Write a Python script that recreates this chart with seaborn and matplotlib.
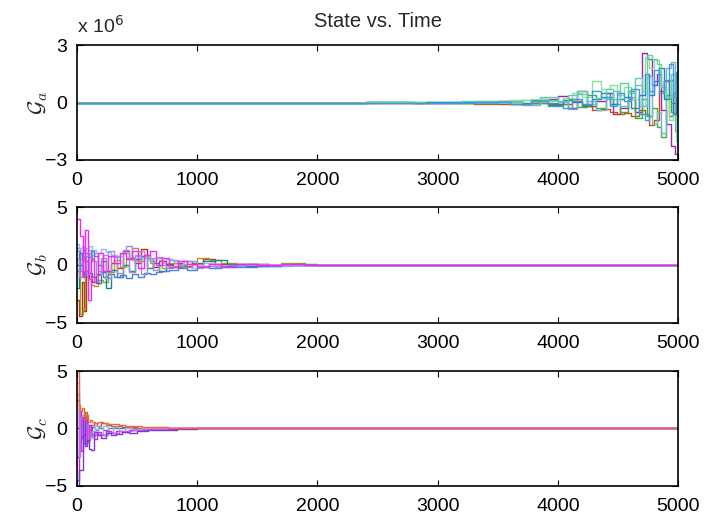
import pandas as pd
import seaborn as sns
import matplotlib
matplotlib.use('Agg')
import matplotlib.pyplot as plt

#///// Data: step traces
# Panel a (values in units of 1e6)
A_T1 = [0, 2400, 2800, 3200, 3500, 3700, 3850, 4000, 4080, 4160, 4240, 4320, 4400,
        4460, 4520, 4580, 4640, 4700, 4740, 4780, 4820, 4860, 4900, 4940, 4970, 5000]
A_T2 = [0, 2500, 2900, 3300, 3600, 3780, 3920, 4040, 4120, 4200, 4280, 4360, 4430,
        4490, 4550, 4610, 4670, 4720, 4760, 4800, 4840, 4880, 4920, 4955, 4985, 5000]
A_PURPLE = [0, 0.02, -0.03, 0.05, 0.1, -0.05, 0.2, 0.35, -0.3, 0.6, -0.2, 0.1, 0.5,
            -0.6, -0.3, 0.2, -0.5, 2.6, 2.3, 0.9, 1.5, -0.4, -1.1, -2.3, -2.7, -2.7]
A_BROWN = [0, -0.02, -0.05, -0.08, -0.1, -0.05, -0.15, -0.1, 0.1, -0.2, -0.4, -0.35, -0.5,
           -0.6, -0.55, -0.7, -0.4, -0.6, -1.2, -0.9, 0.6, 1.1, -0.7, 0.5, 1.4, 3.0]
A_GREEN = [0, 0.01, 0.02, -0.02, 0.05, 0.15, 0.0, -0.1, 0.2, -0.25, 0.4, -0.3, 0.3,
           -0.1, -0.5, 0.6, -0.8, 0.2, -0.7, -0.3, -1.3, -1.8, 0.4, -0.5, 1.5, -1.0]
A_LGREEN = [0, 0.03, 0.05, 0.08, 0.12, 0.2, 0.1, 0.25, 0.5, 0.3, 1.1, 0.7, 0.9,
            0.4, 0.8, 0.2, -0.2, 2.4, 1.8, 2.2, 0.9, 0.3, -0.9, -0.4, -2.0, -2.9]
A_LBLUE = [0, 0.02, 0.0, -0.05, 0.08, -0.12, 0.15, 0.05, -0.35, 0.45, 0.1, -0.4, 0.2,
           0.6, -0.2, 0.3, 0.9, -0.2, 1.4, -1.1, -0.5, -1.6, 1.8, 2.1, -1.5, 0.5]
A_TEAL = [0, -0.01, 0.03, 0.02, -0.06, 0.1, -0.08, 0.15, 0.05, -0.15, 0.2, 0.5, -0.1,
          0.2, 0.3, -0.3, 0.4, 1.5, 0.4, 1.1, 1.8, 0.2, 1.2, -0.6, 0.9, 1.2]
A_MINT = [0, 0.01, -0.04, 0.06, 0.03, -0.08, 0.3, 0.1, 0.4, 0.6, -0.1, 0.25, 0.7,
          0.2, 1.0, 0.5, 1.3, 0.6, 2.5, 2.3, 2.0, 0.8, 0.3, 1.5, 0.7, -2.2]
A_BLUE = [0, 0.0, -0.02, 0.04, -0.1, 0.08, -0.2, -0.3, 0.2, -0.1, 0.6, 0.3, -0.2,
          0.5, 0.1, 0.7, -0.6, -0.9, 0.6, 1.7, 0.5, 1.2, 2.0, 0.3, 1.6, 1.0]

# Panel b
B_T1 = [0, 20, 40, 60, 80, 100, 130, 160, 200, 240, 280, 330, 380, 430, 480, 530, 580,
        630, 680, 740, 800, 880, 960, 1050, 1150, 1250, 1400, 1600, 1800, 2000, 5000]
B_T2 = [0, 30, 50, 70, 90, 115, 145, 180, 220, 260, 305, 355, 405, 455, 505, 555, 605,
        655, 710, 770, 840, 920, 1000, 1100, 1200, 1320, 1500, 1700, 1900, 2100, 5000]
B_BROWN = [-3.0, -4.4, -1.5, -4.0, -0.5, -1.2, -1.5, -0.8, 0.3, -0.5, 0.2, -0.3, 1.2, 0.6,
           0.2, 1.4, 0.5, -0.2, 0.3, 0.1, 0.2, -0.1, 0.2, 0.5, 0.1, -0.1, 0.1, 0.0, 0.0, 0.0, 0.0]
B_OLIVE = [-0.5, -4.2, -3.8, -1.0, -1.2, -1.7, -1.8, -1.3, -1.5, -0.6, 0.4, -0.2, 0.6, 1.5,
           0.3, 0.9, 0.2, 0.6, -0.3, 0.2, 0.0, 0.1, 0.6, 0.4, 0.2, 0.1, -0.05, 0.2, 0.0, 0.0, 0.0]
B_TEAL = [-2.0, 1.0, -0.5, -1.0, 0.3, -0.7, -1.0, -1.6, -0.6, -2.0, -0.4, -1.0, 0.0, -0.5,
          0.5, 0.8, -0.3, 0.2, -0.5, 0.0, -0.2, 0.3, 0.1, 0.3, 0.4, 0.1, -0.1, 0.0, 0.05, 0.0, 0.0]
B_LAVENDER = [1.5, 0.5, 1.2, 0.8, 1.3, 0.6, 1.0, -0.5, 0.9, 1.2, 0.7, 1.0, 1.6, 0.4, 1.2,
              0.8, 0.3, 0.7, 0.2, 0.4, 0.1, 0.3, -0.1, 0.1, -0.2, 0.05, 0.0, 0.0, 0.0, 0.0, 0.0]
B_LBLUE = [1.8, 1.4, 1.6, 1.3, 1.5, 1.6, 1.3, 1.0, 1.4, 1.1, 0.9, 0.8, 1.0, 0.7, 0.8, 0.6,
           0.5, 0.6, 0.4, 0.5, 0.3, -0.2, -0.3, 0.2, -0.2, -0.1, 0.05, -0.05, 0.0, 0.0, 0.0]
B_BLUE = [1.2, -0.5, 1.3, 1.0, 0.7, 1.2, 0.8, 0.0, -1.0, -0.8, -1.0, -0.9, -1.1, -0.8, -1.0,
          -0.7, -0.8, -0.6, -0.5, -0.4, -0.3, -0.4, -0.2, -0.3, -0.2, -0.15, -0.1, 0.0, 0.0, 0.0, 0.0]
B_GREY = [0.5, -1.0, 0.3, 0.8, -0.8, 1.0, 0.3, -0.9, 0.6, -1.1, 0.8, -0.7, 1.3, -0.6, 0.9,
          -0.8, 0.6, -0.4, 0.0, -0.3, -0.1, -0.2, 0.1, -0.1, -0.1, 0.0, 0.05, 0.0, 0.0, 0.0, 0.0]
B_MAGENTA = [4.0, 2.5, -1.0, 3.0, -3.0, 0.5, -1.5, 1.0, -0.5, 0.8, 0.2, 1.0, 0.5, 1.2, -0.3,
             0.9, 1.2, 0.0, 0.6, -0.2, 0.3, 0.1, -0.2, 0.1, -0.1, 0.1, 0.0, 0.05, 0.0, 0.0, 0.0]

# Panel c
C_T1 = [0, 15, 30, 45, 60, 75, 90, 110, 130, 150, 180, 220, 260, 300, 350, 400, 460, 540,
        640, 760, 900, 5000]
C_T2 = [0, 20, 38, 52, 68, 82, 100, 120, 140, 165, 200, 240, 280, 325, 375, 430, 500, 590,
        700, 830, 1000, 5000]
C_BLUE = [-2.5, -1.5, 0.5, -0.8, 0.2, -0.4, 0.1, -0.2, 0.1, -0.1, 0.0, -0.1, 0.0, 0.0,
          0.0, 0.0, 0.0, 0.0, 0.0, 0.0, 0.0, 0.0]
C_OLIVE = [2.5, -1.0, 0.7, -0.2, 1.4, 0.0, -0.7, 0.3, 0.5, 0.2, 0.45, 0.3, 0.2, 0.25, 0.15,
           0.1, 0.08, 0.05, 0.02, 0.0, 0.0, 0.0]
C_LAVENDER = [4.0, 1.5, 0.5, 1.2, -0.5, 0.8, 0.2, -0.8, -0.2, 0.3, -0.5, 0.2, -0.3, 0.1,
              -0.2, 0.05, -0.05, 0.0, 0.0, 0.0, 0.0, 0.0]
C_MAGENTA = [-4.5, 1.5, -2.0, -0.5, 0.8, -1.2, 0.3, -0.5, -0.9, -0.3, -0.6, -0.2, -0.4,
             -0.25, -0.3, -0.15, -0.1, -0.05, -0.03, 0.0, 0.0, 0.0]
C_LPURPLE = [3.0, -2.5, 1.0, -0.6, -1.4, 0.4, -1.0, -0.3, -0.7, -0.45, -0.5, -0.6, -0.35,
             -0.4, -0.2, -0.25, -0.1, -0.08, -0.05, 0.0, 0.0, 0.0]
C_PURPLE = [-5.0, -3.6, -3.6, 1.0, -1.5, -1.0, -1.8, -1.9, -0.3, -0.6, -0.8, -0.4, -0.6,
            -0.5, -0.3, -0.4, -0.2, -0.15, -0.1, -0.05, 0.0, 0.0]
C_ORANGE = [5.0, 2.0, 1.5, 1.8, 0.8, 1.2, 0.6, 0.7, 0.6, 0.5, 0.55, 0.45, 0.4, 0.35, 0.3,
            0.25, 0.2, 0.15, 0.1, 0.05, 0.02, 0.0]

#///// Build long tables: (name, times, values, colour), in drawing order
panel_a = [('purple', A_T1, A_PURPLE, '#a41fb4'), ('brown', A_T2, A_BROWN, '#c24f12'),
           ('green', A_T1, A_GREEN, '#2fb52f'), ('lgreen', A_T2, A_LGREEN, '#86e39a'),
           ('lblue', A_T1, A_LBLUE, '#78b2d2'), ('teal', A_T2, A_TEAL, '#1f88c0'),
           ('mint', A_T1, A_MINT, '#5fd0a4'), ('blue', A_T2, A_BLUE, '#3a9ae6')]
panel_b = [('brown', B_T1, B_BROWN, '#b0301a'), ('olive', B_T2, B_OLIVE, '#a5a023'),
           ('teal', B_T1, B_TEAL, '#12879a'), ('lavender', B_T2, B_LAVENDER, '#a98ad8'),
           ('lblue', B_T1, B_LBLUE, '#8fbde6'), ('blue', B_T2, B_BLUE, '#4c7fd6'),
           ('grey', B_T1, B_GREY, '#9a8fc8'), ('magenta', B_T2, B_MAGENTA, '#ff1fff')]
panel_c = [('blue', C_T1, C_BLUE, '#2e7fd0'), ('olive', C_T2, C_OLIVE, '#9a7a3a'),
           ('lavender', C_T1, C_LAVENDER, '#bca4f2'), ('magenta', C_T2, C_MAGENTA, '#d41ed4'),
           ('lpurple', C_T1, C_LPURPLE, '#c070e0'), ('purple', C_T2, C_PURPLE, '#7a36e0'),
           ('orange', C_T1, C_ORANGE, '#f2643e')]


def to_frame(traces):
    rows = []
    for name, ts, vs, _ in traces:
        for t, v in zip(ts, vs):
            rows.append({'trace': name, 't': t, 'v': v})
    return pd.DataFrame(rows)


#///// Figure
sns.set_theme(style='white')
plt.rcParams['font.family'] = ['Liberation Sans', 'DejaVu Sans']
plt.rcParams['mathtext.fontset'] = 'cm'

fig = plt.figure(figsize=(7.05, 5.19), dpi=100)
boxes = [[0.109, 0.692, 0.853, 0.221], [0.109, 0.378, 0.853, 0.223], [0.109, 0.064, 0.853, 0.221]]
labels = [r'$\mathcal{G}_a$', r'$\mathcal{G}_b$', r'$\mathcal{G}_c$']
lims = [(-3, 3), (-5, 5), (-5, 5)]

for box, traces, lab, lim in zip(boxes, [panel_a, panel_b, panel_c], labels, lims):
    ax = fig.add_axes(box)
    df = to_frame(traces)
    pal = {name: col for name, _, _, col in traces}
    sns.lineplot(data=df, x='t', y='v', hue='trace', hue_order=[n for n, _, _, _ in traces],
                 palette=pal, estimator=None, sort=False, drawstyle='steps-post',
                 linewidth=1.0, legend=False, ax=ax)
    ax.set_xlim(0, 5000)
    ax.set_ylim(*lim)
    ax.set_xticks([0, 1000, 2000, 3000, 4000, 5000])
    ax.set_yticks([lim[0], 0, lim[1]])
    ax.set_xlabel('')
    ax.set_ylabel(lab, fontsize=16)
    ax.yaxis.set_label_coords(-0.045, 0.5)
    ax.tick_params(direction='in', length=4, width=0.8, top=True, right=True,
                   bottom=True, left=True, labelsize=14, colors='black')
    ax.tick_params(axis='x', pad=9)
    ax.tick_params(axis='y', pad=7)
    for s in ax.spines.values():
        s.set_color('black')
        s.set_linewidth(1.2)
    if lab.endswith('a$'):
        ax.set_yticklabels(['\u22123', '0', '3'])
        ax.set_title('State vs. Time', fontsize=14.5, pad=13)
        ax.text(0.0, 1.07, r'x 10$^{6}$', transform=ax.transAxes, fontsize=14,
                ha='left', va='bottom', family='Liberation Sans',
                math_fontfamily='dejavusans')
    else:
        ax.set_yticklabels(['\u22125', '0', '5'])

plt.savefig('out.png', dpi=100)
